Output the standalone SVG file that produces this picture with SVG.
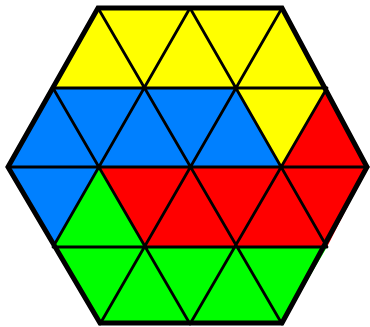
<svg xmlns="http://www.w3.org/2000/svg" width="370" height="327" viewBox="0 0 370 327">
<style>
.r{stroke:none}
.g{stroke:#000;stroke-width:2.8;fill:none;stroke-linecap:round}
.o{stroke:#000;stroke-width:5;fill:none;stroke-linejoin:miter}
</style>
<rect width="370" height="327" fill="#fff"/>
<g id="yellow"><polygon class="r" fill="#FFFF00" points="98,8 282,8 327,88 282,167 236,88 53,88"/></g>
<g id="blue"><polygon class="r" fill="#0080FF" points="53,88 236,88 282,167 100,167 53,247 8,167"/></g>
<g id="red"><polygon class="r" fill="#FF0000" points="327,88 368,167 327,247 145,247 100,167 282,167"/></g>
<g id="green"><polygon class="r" fill="#00FF00" points="100,167 145,247 327,247 282,324 100,324 53,247"/></g>
<g id="connectors">
<path class="g" d="M53,88H327M8,167H368M53,247H327M53,247L190,8M100,324L282,8M190,324L327,88M98,8L282,324M53,88L190,324M190,8L327,247"/>
<polygon class="o" points="98,8 282,8 367,167 282,323 100,323 8,167"/>
</g>
</svg>
